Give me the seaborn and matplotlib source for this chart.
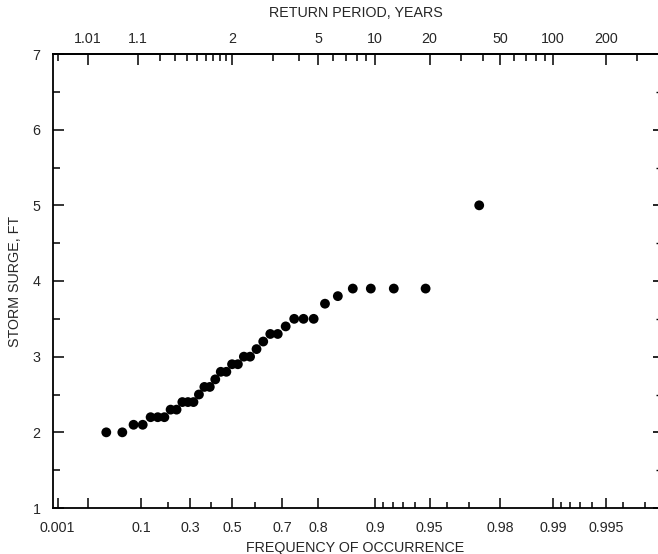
import numpy as np
import pandas as pd
import matplotlib
matplotlib.use("Agg")
import matplotlib.pyplot as plt
import seaborn as sns

# ---- data ----
frequency = [0.0263, 0.0526, 0.0789, 0.1053, 0.1316, 0.1579, 0.1842, 0.2105,
             0.2368, 0.2632, 0.2895, 0.3158, 0.3421, 0.3684, 0.3947, 0.4211,
             0.4474, 0.4737, 0.5000, 0.5263, 0.5526, 0.5789, 0.6053, 0.6316,
             0.6579, 0.6842, 0.7105, 0.7368, 0.7632, 0.7895, 0.8158, 0.8421,
             0.8684, 0.8947, 0.9211, 0.9474, 0.9737]
surge_ft = [2.0, 2.0, 2.1, 2.1, 2.2, 2.2, 2.2, 2.3, 2.3, 2.4, 2.4, 2.4, 2.5,
            2.6, 2.6, 2.7, 2.8, 2.8, 2.9, 2.9, 3.0, 3.0, 3.1, 3.2, 3.3, 3.3,
            3.4, 3.5, 3.5, 3.5, 3.7, 3.8, 3.9, 3.9, 3.9, 3.9, 5.0]

freq_major = [0.001, 0.01, 0.1, 0.3, 0.5, 0.7, 0.8, 0.9, 0.95, 0.98, 0.99, 0.995]
freq_major_labels = ["0.001", "", "0.1", "0.3", "0.5", "0.7", "0.8", "0.9",
                     "0.95", "0.98", "0.99", "0.995"]
freq_minor = [0.2, 0.4, 0.6, 0.91, 0.92, 0.93, 0.94, 0.96, 0.97,
              0.991, 0.992, 0.993, 0.994, 0.996, 0.997]

rp_major = [1.01, 1.1, 2, 5, 10, 20, 50, 100, 200]
rp_major_labels = ["1.01", "1.1", "2", "5", "10", "20", "50", "100", "200"]
rp_minor = [1.001, 1.2, 1.3, 1.4, 1.5, 1.6, 1.7, 1.8, 1.9, 3, 4, 6, 7, 8, 9,
            30, 40, 60, 70, 80, 90, 300]

surge_major = [1, 2, 3, 4, 5, 6, 7]
surge_minor = [1.5, 2.5, 3.5, 4.5, 5.5, 6.5]

df = pd.DataFrame({"frequency": frequency, "surge": surge_ft})


def fwd(p):
    p = np.clip(np.asarray(p, dtype=float), 1e-12, 1 - 1e-12)
    return -np.log(-np.log(p))


def inv(g):
    return np.exp(-np.exp(-np.asarray(g, dtype=float)))


sns.set_theme(style="white")
plt.rcParams["font.family"] = ["Liberation Sans", "DejaVu Sans"]

fig = plt.figure(figsize=(6.58, 5.54), dpi=100)
ax = fig.add_axes([53 / 658, 46 / 554, 605 / 658, 454 / 554])

ax.set_xscale("function", functions=(fwd, inv))
sns.scatterplot(data=df, x="frequency", y="surge", ax=ax, color="black",
                s=50, edgecolor="none", linewidth=0, zorder=3)

xlim = (float(inv(-1.994)), float(inv(5.982)))
ax.set_xlim(xlim)
ax.set_ylim(1, 7)

ax.set_xticks(freq_major)
ax.set_xticklabels(freq_major_labels)
ax.set_xticks(freq_minor, minor=True)
ax.set_yticks(surge_major)
ax.set_yticklabels([str(v) for v in surge_major])
ax.set_yticks(surge_minor, minor=True)

ax.set_xlabel("FREQUENCY OF OCCURRENCE", fontsize=10.3)
ax.set_ylabel("STORM SURGE, FT", fontsize=10.3)
ax.xaxis.set_label_coords(0.5, -0.088)
ax.xaxis.label.set_va("center")
ax.yaxis.set_label_coords(-0.063, 0.5)
ax.yaxis.label.set_va("center")

for s in ["left", "bottom", "top"]:
    ax.spines[s].set_visible(True)
    ax.spines[s].set_color("black")
    ax.spines[s].set_linewidth(1.3)
ax.spines["right"].set_visible(False)

ax.tick_params(axis="x", which="major", direction="in", length=7, width=1.1,
               color="black", labelsize=10.3, pad=9, bottom=True, top=False)
ax.tick_params(axis="x", which="minor", direction="in", length=4.5, width=1.1,
               color="black", bottom=True, top=False)
ax.tick_params(axis="y", which="major", direction="in", length=8, width=1.1,
               color="black", labelsize=10.3, pad=9, left=True, right=False)
ax.tick_params(axis="y", which="minor", direction="in", length=5, width=1.1,
               color="black", left=True, right=False)

# right edge: small inward ticks, no spine
axr = ax.secondary_yaxis("right")
axr.set_yticks(surge_major)
axr.set_yticks(surge_minor, minor=True)
axr.tick_params(axis="y", which="major", direction="in", length=3.5,
                width=1.2, color="black", labelright=False)
axr.tick_params(axis="y", which="minor", direction="in", length=1.2,
                width=1.0, color="black", labelright=False)
axr.spines["right"].set_visible(False)

# top axis: return period
ax2 = ax.twiny()
ax2.set_xscale("function", functions=(fwd, inv))
ax2.set_xlim(xlim)
ax2.set_xticks([1 - 1 / t for t in rp_major])
ax2.set_xticklabels(rp_major_labels)
ax2.set_xticks([1 - 1 / t for t in rp_minor], minor=True)
ax2.tick_params(axis="x", which="major", direction="in", length=8, width=1.1,
                color="black", labelsize=10.3, pad=6)
ax2.tick_params(axis="x", which="minor", direction="in", length=5, width=1.1,
                color="black")
ax2.set_xlabel("RETURN PERIOD, YEARS", fontsize=10.3)
ax2.xaxis.set_label_coords(0.5, 1.090)
ax2.xaxis.label.set_va("center")
for s in ax2.spines.values():
    s.set_visible(False)
ax2.spines["top"].set_visible(True)
ax2.spines["top"].set_linewidth(1.3)
ax2.spines["top"].set_color("black")

fig.savefig("out.png", dpi=100)
